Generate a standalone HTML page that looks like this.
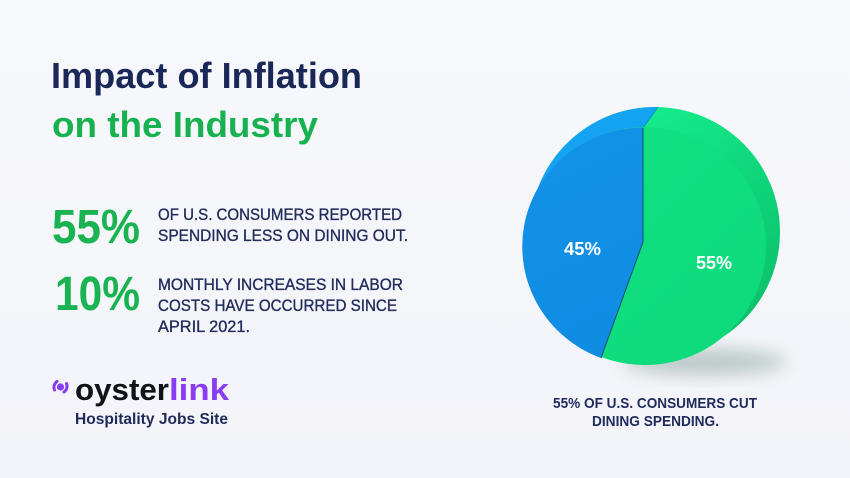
<!DOCTYPE html>
<html><head><meta charset="utf-8"><style>
html,body{margin:0;padding:0;width:850px;height:478px;overflow:hidden;background:#f4f5fa}
svg{display:block}
text{font-family:"Liberation Sans",Arial,sans-serif;font-weight:bold}
.med{font-weight:normal;stroke:#232d5c;stroke-width:0.35}
</style></head><body>
<svg width="850" height="478" viewBox="0 0 850 478" xmlns="http://www.w3.org/2000/svg">
<defs>
<linearGradient id="bg" x1="0" y1="0" x2="0" y2="1">
<stop offset="0" stop-color="#f7f8fc"/><stop offset="1" stop-color="#f3f4f9"/>
</linearGradient>
<linearGradient id="gside" x1="640" y1="100" x2="790" y2="300" gradientUnits="userSpaceOnUse">
<stop offset="0" stop-color="#16ee8e"/><stop offset="0.5" stop-color="#0fd77a"/><stop offset="1" stop-color="#0bc06a"/>
</linearGradient>
<linearGradient id="gfront" x1="560" y1="140" x2="770" y2="360" gradientUnits="userSpaceOnUse">
<stop offset="0" stop-color="#11e283"/><stop offset="1" stop-color="#0dd97a"/>
</linearGradient>
<linearGradient id="bfront" x1="530" y1="130" x2="640" y2="360" gradientUnits="userSpaceOnUse">
<stop offset="0" stop-color="#1293e8"/><stop offset="1" stop-color="#0f8be2"/>
</linearGradient>
<clipPath id="leftseam"><polygon points="688,65 643,128 643,420 400,420 400,65"/></clipPath>
<filter id="blur" x="-50%" y="-50%" width="200%" height="200%"><feGaussianBlur stdDeviation="9"/></filter>
</defs>
<rect width="850" height="478" fill="url(#bg)"/>

<!-- Title -->
<text x="51" y="88" font-size="36" fill="#1a2858" textLength="311" lengthAdjust="spacingAndGlyphs">Impact of Inflation</text>
<text x="52" y="137" font-size="36" fill="#17b24f" textLength="266" lengthAdjust="spacingAndGlyphs">on the Industry</text>

<!-- Stats -->
<text x="52" y="243" font-size="48" fill="#19b451" textLength="88" lengthAdjust="spacingAndGlyphs">55%</text>
<text class="med" x="158" y="220" font-size="16.5" fill="#232d5c" textLength="244" lengthAdjust="spacingAndGlyphs">OF U.S. CONSUMERS REPORTED</text>
<text class="med" x="158" y="241" font-size="16.5" fill="#232d5c" textLength="250" lengthAdjust="spacingAndGlyphs">SPENDING LESS ON DINING OUT.</text>

<text x="55" y="310" font-size="48" fill="#19b451" textLength="85" lengthAdjust="spacingAndGlyphs">10%</text>
<text class="med" x="158" y="290" font-size="16.5" fill="#232d5c" textLength="245" lengthAdjust="spacingAndGlyphs">MONTHLY INCREASES IN LABOR</text>
<text class="med" x="158" y="311" font-size="16.5" fill="#232d5c" textLength="239" lengthAdjust="spacingAndGlyphs">COSTS HAVE OCCURRED SINCE</text>
<text class="med" x="158" y="332" font-size="16.5" fill="#232d5c" textLength="92" lengthAdjust="spacingAndGlyphs">APRIL 2021.</text>

<!-- Logo -->
<g fill="none" stroke="#8a3cf0" stroke-width="3" stroke-linecap="round">
<path d="M54.5,390 A7,7 0 0 1 57,381.5"/>
<path d="M66.5,383.5 A7,7 0 0 1 64,392"/>
</g>
<circle cx="60.5" cy="387" r="3.6" fill="#8a3cf0"/>
<text x="75" y="400" font-size="31" fill="#111118" textLength="94" lengthAdjust="spacingAndGlyphs">oyster</text>
<text x="169" y="400" font-size="31" fill="#8a3cf0" textLength="60" lengthAdjust="spacingAndGlyphs">link</text>
<text x="75" y="424" font-size="15.5" fill="#1f2a5a" textLength="153" lengthAdjust="spacingAndGlyphs">Hospitality Jobs Site</text>

<!-- Pie shadow -->
<ellipse cx="705" cy="362" rx="82" ry="13" fill="#3f6a5a" opacity="0.32" filter="url(#blur)"/>

<!-- Pie side -->
<ellipse cx="655" cy="232" rx="125" ry="125" fill="url(#gside)"/>
<g clip-path="url(#leftseam)">
<ellipse cx="655" cy="232" rx="125" ry="125" fill="#14a3f1"/>
</g>
<line x1="643" y1="128" x2="658" y2="107" stroke="#0a8fc8" stroke-width="1"/>

<!-- Pie front -->
<ellipse cx="645" cy="246" rx="121" ry="119" fill="url(#gfront)"/>
<path d="M643,127.5 L643,242 L601,358 A121,119 0 0 1 643,127.5 Z" fill="url(#bfront)"/>
<path d="M643,128 L643,242 L601,358" fill="none" stroke="#0d4f6e" stroke-width="1"/>

<text x="582.5" y="255" font-size="18" fill="#ffffff" text-anchor="middle" textLength="37" lengthAdjust="spacingAndGlyphs">45%</text>
<text x="714" y="269" font-size="18" fill="#ffffff" text-anchor="middle" textLength="36" lengthAdjust="spacingAndGlyphs">55%</text>

<!-- Caption -->
<text x="655" y="408" font-size="15" fill="#1f2a5a" text-anchor="middle" textLength="204" lengthAdjust="spacingAndGlyphs">55% OF U.S. CONSUMERS CUT</text>
<text x="655.5" y="426" font-size="15" fill="#1f2a5a" text-anchor="middle" textLength="127" lengthAdjust="spacingAndGlyphs">DINING SPENDING.</text>
</svg>
</body></html>
